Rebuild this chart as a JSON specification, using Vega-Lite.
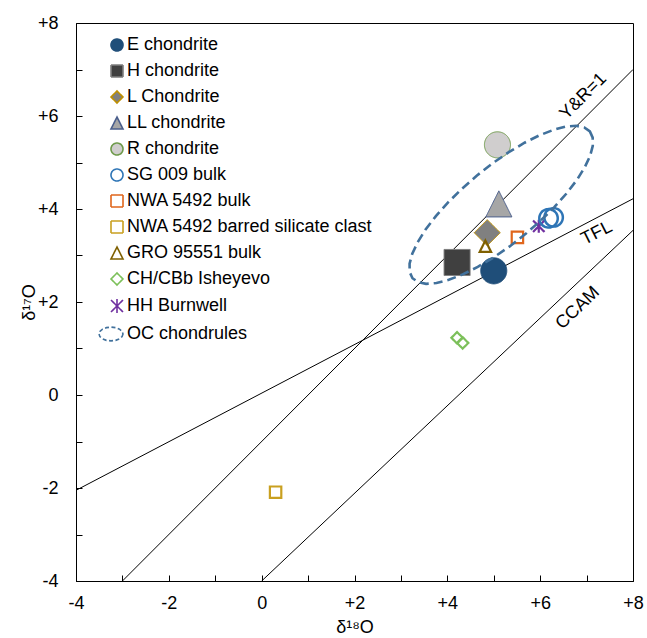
{
  "$schema": "https://vega.github.io/schema/vega-lite/v6.json",
  "width": 557,
  "height": 558,
  "autosize": {"type": "none"},
  "padding": {"left": 76, "top": 23, "right": 14, "bottom": 57},
  "background": "white",
  "config": {
    "view": {"stroke": "black", "strokeWidth": 1},
    "font": "Liberation Sans",
    "axis": {
      "grid": false,
      "domainColor": "black",
      "tickColor": "black",
      "tickSize": -6,
      "labelFont": "Liberation Sans",
      "labelFontSize": 18,
      "labelColor": "black",
      "titleFont": "Liberation Sans",
      "titleFontSize": 18,
      "titleFontWeight": "normal",
      "titleColor": "black",
      "labelFlush": false,
      "labelOverlap": false
    },
    "legend": {
      "orient": "none",
      "legendX": 32,
      "legendY": 13,
      "padding": 0,
      "labelFont": "Liberation Sans",
      "labelFontSize": 18,
      "labelColor": "black",
      "labelLimit": 400,
      "labelOffset": 1,
      "symbolSize": 144,
      "symbolStrokeWidth": 1.6,
      "rowPadding": 6,
      "titleFontSize": 0
    }
  },
  "datasets": {
    "points": [
      {"series": "E chondrite", "x": 5.0, "y": 2.67},
      {"series": "H chondrite", "x": 4.21, "y": 2.85},
      {"series": "L Chondrite", "x": 4.86, "y": 3.49},
      {"series": "LL chondrite", "x": 5.11, "y": 4.11},
      {"series": "R chondrite", "x": 5.08, "y": 5.38},
      {"series": "SG 009 bulk", "x": 6.18, "y": 3.8},
      {"series": "SG 009 bulk", "x": 6.29, "y": 3.82},
      {"series": "NWA 5492 bulk", "x": 5.51, "y": 3.39},
      {"series": "NWA 5492 barred silicate clast", "x": 0.3, "y": -2.09},
      {"series": "GRO 95551 bulk", "x": 4.82, "y": 3.2},
      {"series": "CH/CBb Isheyevo", "x": 4.21, "y": 1.23},
      {"series": "CH/CBb Isheyevo", "x": 4.33, "y": 1.12},
      {"series": "HH Burnwell", "x": 5.97, "y": 3.63},
      {"series": "OC chondrules", "x": 5.16, "y": 4.09}
    ],
    "lines": [
      {"line": "Y&R=1", "x": -3, "y": -4},
      {"line": "Y&R=1", "x": 8, "y": 7},
      {"line": "TFL", "x": -4, "y": -2.05},
      {"line": "TFL", "x": 8, "y": 4.22},
      {"line": "CCAM", "x": 0, "y": -4},
      {"line": "CCAM", "x": 8, "y": 3.54}
    ],
    "lineLabels": [
      {"label": "Y&R=1", "x": 6.93, "y": 6.42},
      {"label": "TFL", "x": 7.22, "y": 3.48},
      {"label": "CCAM", "x": 6.81, "y": 1.87}
    ]
  },
  "encoding": {
    "x": {
      "field": "x", "type": "quantitative",
      "scale": {"domain": [-4, 8], "nice": false, "zero": false},
      "axis": {
        "title": "δ¹⁸O",
        "values": [-4, -3, -2, -1, 0, 1, 2, 3, 4, 5, 6, 7, 8],
        "labelExpr": "datum.value % 2 != 0 ? '' : (datum.value > 0 ? '+' + datum.value : '' + datum.value)",
        "labelPadding": 19,
        "titlePadding": 6
      }
    },
    "y": {
      "field": "y", "type": "quantitative",
      "scale": {"domain": [-4, 8], "nice": false, "zero": false},
      "axis": {
        "title": "δ¹⁷O",
        "values": [-4, -3, -2, -1, 0, 1, 2, 3, 4, 5, 6, 7, 8],
        "labelExpr": "datum.value % 2 != 0 ? '' : (datum.value > 0 ? '+' + datum.value : '' + datum.value)",
        "labelPadding": 24,
        "titleX": -38,
        "titleY": 279
      }
    }
  },
  "layer": [
    {
      "data": {"name": "lines"},
      "mark": {"type": "line", "color": "black", "strokeWidth": 1, "clip": true},
      "encoding": {"detail": {"field": "line", "type": "nominal"}}
    },
    {
      "data": {"name": "lineLabels"},
      "transform": [{"filter": "datum.label == 'Y&R=1'"}],
      "mark": {"type": "text", "angle": 315, "fontSize": 18, "font": "Liberation Sans", "color": "black"},
      "encoding": {"text": {"field": "label"}}
    },
    {
      "data": {"name": "lineLabels"},
      "transform": [{"filter": "datum.label == 'TFL'"}],
      "mark": {"type": "text", "angle": 333, "fontSize": 18, "font": "Liberation Sans", "color": "black"},
      "encoding": {"text": {"field": "label"}}
    },
    {
      "data": {"name": "lineLabels"},
      "transform": [{"filter": "datum.label == 'CCAM'"}],
      "mark": {"type": "text", "angle": 316, "fontSize": 18, "font": "Liberation Sans", "color": "black"},
      "encoding": {"text": {"field": "label"}}
    },
    {
      "data": {"name": "points"},
      "transform": [{"filter": "indexof(['R chondrite','LL chondrite','L Chondrite','H chondrite','E chondrite'], datum.series) >= 0"}],
      "mark": {"type": "point", "filled": true, "opacity": 1, "size": 680, "strokeWidth": 1},
      "encoding": {
        "shape": {"field": "series", "type": "nominal", "scale": {"domain": ["E chondrite","H chondrite","L Chondrite","LL chondrite","R chondrite","SG 009 bulk","NWA 5492 bulk","NWA 5492 barred silicate clast","GRO 95551 bulk","CH/CBb Isheyevo","HH Burnwell","OC chondrules"], "range": ["circle","square","diamond","M0,-1L1,1L-1,1Z","circle","circle","square","square","M0,-1L1,1L-1,1Z","diamond","M-1,-1L1,1M-1,1L1,-1M0,-1.15L0,1.15","M1.0,0L0.85,0.44L0.41,0.81L-0.23,1.06L-1.0,1.15L-1.77,1.06L-2.41,0.81L-2.85,0.44L-3.0,0L-2.85,-0.44L-2.41,-0.81L-1.77,-1.06L-1.0,-1.15L-0.23,-1.06L0.41,-0.81L0.85,-0.44Z"]}, "legend": {"title": null}},
        "fill": {"field": "series", "type": "nominal", "scale": {"domain": ["E chondrite","H chondrite","L Chondrite","LL chondrite","R chondrite","SG 009 bulk","NWA 5492 bulk","NWA 5492 barred silicate clast","GRO 95551 bulk","CH/CBb Isheyevo","HH Burnwell","OC chondrules"], "range": ["#1F4E79","#404040","#808080","#A6A6A6","#D0CECE","transparent","transparent","transparent","transparent","transparent","transparent","transparent"]}, "legend": {"title": null}},
        "stroke": {"field": "series", "type": "nominal", "scale": {"domain": ["E chondrite","H chondrite","L Chondrite","LL chondrite","R chondrite","SG 009 bulk","NWA 5492 bulk","NWA 5492 barred silicate clast","GRO 95551 bulk","CH/CBb Isheyevo","HH Burnwell","OC chondrules"], "range": ["#1F4E79","#7F7F7F","#BF9000","#4A5E8C","#6E9A4A","#2E75B6","#E0661C","#C9A020","#7F6000","#7CC05A","#7030A0","#41719C"]}, "legend": {"title": null}},
        "strokeDash": {"field": "series", "type": "nominal", "scale": {"domain": ["E chondrite","H chondrite","L Chondrite","LL chondrite","R chondrite","SG 009 bulk","NWA 5492 bulk","NWA 5492 barred silicate clast","GRO 95551 bulk","CH/CBb Isheyevo","HH Burnwell","OC chondrules"], "range": [[1,0],[1,0],[1,0],[1,0],[1,0],[1,0],[1,0],[1,0],[1,0],[1,0],[1,0],[4,2.5]]}, "legend": {"title": null}}
      }
    },
    {
      "data": {"name": "points"},
      "transform": [{"filter": "indexof(['NWA 5492 bulk','NWA 5492 barred silicate clast','GRO 95551 bulk','CH/CBb Isheyevo','HH Burnwell'], datum.series) >= 0"}],
      "mark": {"type": "point", "filled": true, "opacity": 1, "size": 130, "strokeWidth": 2.2},
      "encoding": {
        "shape": {"field": "series", "type": "nominal"},
        "fill": {"field": "series", "type": "nominal"},
        "stroke": {"field": "series", "type": "nominal"},
        "strokeDash": {"field": "series", "type": "nominal"}
      }
    },
    {
      "data": {"name": "points"},
      "transform": [{"filter": "datum.series == 'SG 009 bulk'"}],
      "mark": {"type": "point", "filled": true, "opacity": 1, "size": 340, "strokeWidth": 2.5},
      "encoding": {
        "shape": {"field": "series", "type": "nominal"},
        "fill": {"field": "series", "type": "nominal"},
        "stroke": {"field": "series", "type": "nominal"},
        "strokeDash": {"field": "series", "type": "nominal"}
      }
    },
    {
      "data": {"name": "points"},
      "transform": [{"filter": "datum.series == 'OC chondrules'"}],
      "mark": {
        "type": "point", "filled": false, "opacity": 1, "size": 4,
        "shape": "M88.7,-73.4L91.5,-67.2L91.6,-58.9L88.9,-48.9L83.5,-37.4L75.6,-24.7L65.3,-11.3L53.1,2.4L39.2,16.1L24.2,29.3L8.5,41.6L-7.6,52.6L-23.4,62.1L-38.5,69.6L-52.4,75.0L-64.7,78.2L-75.1,79.0L-83.1,77.3L-88.7,73.4L-91.5,67.2L-91.6,58.9L-88.9,48.9L-83.5,37.4L-75.6,24.7L-65.3,11.3L-53.1,-2.4L-39.2,-16.1L-24.2,-29.3L-8.5,-41.6L7.6,-52.6L23.4,-62.1L38.5,-69.6L52.4,-75.0L64.7,-78.2L75.1,-79.0L83.1,-77.3Z",
        "stroke": "#41719C", "strokeWidth": 2.6, "strokeDash": [9, 5], "fill": "transparent"
      },
      "encoding": {}
    }
  ]
}
